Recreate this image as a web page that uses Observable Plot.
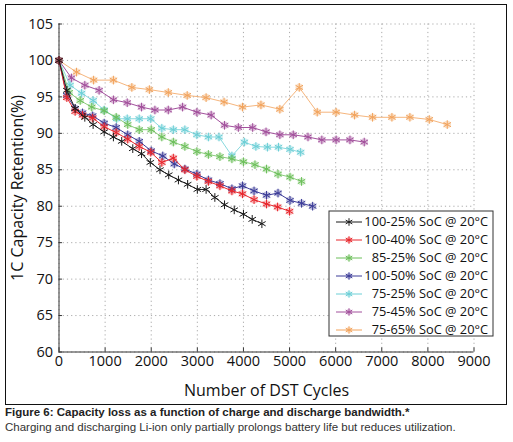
<!DOCTYPE html>
<html>
<head>
<meta charset="utf-8">
<script src="https://cdn.jsdelivr.net/npm/d3@7"></script>
<script src="https://cdn.jsdelivr.net/npm/@observablehq/plot@0.6"></script>
<style>
  body { margin: 0; background: #fff; }
  #fig {
    position: absolute; left: 5px; top: 4px;
    width: 500px; height: 399px;
    border: 1.5px solid #111; background: #fff;
  }
  #chart g[aria-label="x-axis label"] text,
  #chart g[aria-label="y-axis label"] text { font-size: 16px; }
  #legend { position: absolute; left: 317px; top: 201px; }
  #legend text { font-family: 'Open Sans', sans-serif; }
  #caption {
    position: absolute; left: 5px; top: 405px; width: 505px;
    font-family: "Liberation Sans", Arial, sans-serif; font-size: 11.5px; color: #333;
    line-height: 15px;
  }
  #caption b { color: #222; }
</style>
</head>
<body>
<div id="fig"><div id="chart"></div><svg id="legend" width="172" height="132"></svg></div>
<div id="caption">
  <b>Figure 6: Capacity loss as a function of charge and discharge bandwidth.*</b><br>
  Charging and discharging Li-ion only partially prolongs battery life but reduces utilization.
</div>
<script>
// cycles / retention
const black_x = [0,170,350,560,740,980,1180,1360,1600,1790,1980,2190,2380,2590,2790,3000,3190,3380,3590,3800,4000,4190,4400]
const black_y = [100,95.9,93.4,92.2,91.2,90.2,89.5,88.9,87.9,87.2,86.0,85.0,84.3,83.6,83.0,82.3,82.3,81.2,80.2,79.5,78.9,78.2,77.6]

const red_x = [0,170,350,510,730,980,1240,1490,1740,1990,2230,2480,2730,2990,3240,3490,3750,3980,4230,4500,4740,5000]
const red_y = [100,94.9,93.0,92.5,92.1,90.9,90.1,89.2,88.2,87.4,86.0,86.6,85.0,84.1,83.4,82.8,82.1,81.7,80.9,80.3,79.9,79.3]

const green_x = [0,220,460,710,980,1240,1490,1740,2000,2230,2480,2730,2990,3240,3490,3750,4000,4250,4500,4750,5010,5260]
const green_y = [100,95.6,94.5,93.6,93.1,92.2,91.2,90.5,90.5,89.5,88.8,88.2,87.5,87.1,86.8,86.5,86.1,85.7,85.1,84.4,84.0,83.4]

const blue_x = [0,170,350,510,730,980,1240,1490,1740,2000,2250,2500,2730,2990,3240,3490,3750,3980,4230,4500,4750,5010,5260,5500]
const blue_y = [100,95.2,93.4,92.8,92.4,91.4,90.8,89.8,88.9,87.6,86.9,85.8,85.1,84.4,83.6,83.1,82.4,82.8,82.1,81.5,81.8,80.8,80.4,80.0]

const cyan_x = [0,240,490,740,980,1250,1480,1740,1990,2230,2480,2730,2990,3240,3470,3750,4020,4270,4520,4760,5010,5240]
const cyan_y = [100,96.6,95.5,94.5,93.2,92.0,92.0,92.0,92.0,90.7,90.5,90.5,89.8,89.5,89.5,86.9,88.8,88.2,88.1,88.1,87.8,87.4]

const magenta_x = [0,270,560,870,1180,1480,1790,2080,2370,2680,2990,3300,3590,3890,4200,4490,4790,5080,5400,5700,6010,6310,6620]
const magenta_y = [100,97.6,96.6,95.9,94.6,94.2,93.6,93.2,93.2,93.6,92.9,92.5,91.1,90.8,90.8,90.2,89.8,89.8,89.5,89.1,89.1,89.1,88.8]

const orange_x = [0,380,750,1180,1580,1960,2370,2780,3190,3580,3980,4380,4790,5210,5600,6010,6410,6800,7220,7610,8030,8420]
const orange_y = [100,98.4,97.3,97.3,96.3,96.0,95.6,95.2,94.9,94.3,93.6,93.9,93.3,96.3,92.9,92.9,92.5,92.2,92.2,92.2,91.9,91.2]

const names = ['100-25% SoC @ 20°C','100-40% SoC @ 20°C','85-25% SoC @ 20°C','100-50% SoC @ 20°C','75-25% SoC @ 20°C','75-45% SoC @ 20°C','75-65% SoC @ 20°C']
const colors = ['#1a1a1a','#e8262c','#6cbf5a','#3c3c98','#6ccfd6','#a2509c','#f2a35c']
const xTicks = d3.range(0, 9001, 1000)
const yTicks = d3.range(60, 106, 5)

const series = [
  [black_x, black_y], [red_x, red_y], [green_x, green_y], [blue_x, blue_y],
  [cyan_x, cyan_y], [magenta_x, magenta_y], [orange_x, orange_y]
]
const rows = series.flatMap(([xs, ys], i) => xs.map((x, j) => ({name: names[i], x, y: ys[j]})))
// draw orange first so the black series ends up on top
const drawOrder = [6, 5, 4, 2, 3, 1, 0]

const marks = [
  Plot.gridX(xTicks, {stroke: '#888', strokeOpacity: 0.7, strokeDasharray: '1.2,3'}),
  Plot.gridY(yTicks, {stroke: '#888', strokeOpacity: 0.7, strokeDasharray: '1.2,3'}),
  Plot.ruleX(xTicks, {y1: 60, y2: 60.55, stroke: '#333'}),
  Plot.ruleY(yTicks, {x1: 0, x2: 75, stroke: '#333'}),
  Plot.ruleX([0], {stroke: '#333'}),
  Plot.ruleY([60], {stroke: '#333'}),
  Plot.axisX(xTicks, {tickSize: 0, tickPadding: 4, tickFormat: d3.format('d'), label: 'Number of DST Cycles', labelArrow: 'none', labelAnchor: 'center', labelOffset: 44}),
  Plot.axisY(yTicks, {tickSize: 0, tickPadding: 6, tickFormat: d3.format('d'), label: '1C Capacity Retention(%)', labelArrow: 'none', labelAnchor: 'center', labelOffset: 47})
]
drawOrder.forEach(i => {
  const d = rows.filter(r => r.name === names[i])
  const c = colors[i]
  const halo = i === 0 ? 0 : 0.35
  marks.push(
    Plot.line(d, {x: 'x', y: 'y', stroke: c, strokeWidth: 1, strokeOpacity: i === 4 || i === 2 || i === 6 ? 0.8 : 1}),
    Plot.dot(d, {x: 'x', y: 'y', r: 3.8, fill: c, fillOpacity: halo}),
    Plot.dot(d, {x: 'x', y: 'y', r: 4.1, symbol: 'asterisk', stroke: c, strokeWidth: 1})
  )
})

const chart = Plot.plot({
  width: 500,
  height: 399,
  marginLeft: 52.5,
  marginRight: 32.5,
  marginTop: 18.5,
  marginBottom: 52.5,
  style: {fontFamily: "'Open Sans', sans-serif", fontSize: '14.5px', color: '#111', background: 'transparent'},
  x: {domain: [0, 9000]},
  y: {domain: [60, 105]},
  marks
})
d3.select('#chart').append(() => chart)

// legend, matlab style: line + marker on the left, right-aligned labels
const leg = d3.select('#legend')
leg.append('rect').attr('x', 6).attr('y', 5).attr('width', 170 - 6).attr('height', 130 - 5)
  .attr('fill', '#fff').attr('stroke', '#333').attr('stroke-width', 1)
names.forEach((n, i) => {
  const cy = 16 + i * 18
  const g = leg.append('g')
  g.append('line').attr('x1', 13).attr('x2', 39).attr('y1', cy).attr('y2', cy)
    .attr('stroke', colors[i]).attr('stroke-width', 1)
  if (i > 0) g.append('circle').attr('cx', 26).attr('cy', cy).attr('r', 3)
    .attr('fill', colors[i]).attr('fill-opacity', 0.35)
  g.append('path').attr('transform', `translate(26,${cy})`)
    .attr('d', d3.symbol(d3.symbolAsterisk, 40)())
    .attr('fill', 'none').attr('stroke', colors[i]).attr('stroke-width', 1)
  g.append('text').attr('x', 165).attr('y', cy).attr('dy', '0.35em')
    .attr('text-anchor', 'end').attr('font-size', '12.8px').attr('fill', '#111').text(n)
})
</script>
</body>
</html>
